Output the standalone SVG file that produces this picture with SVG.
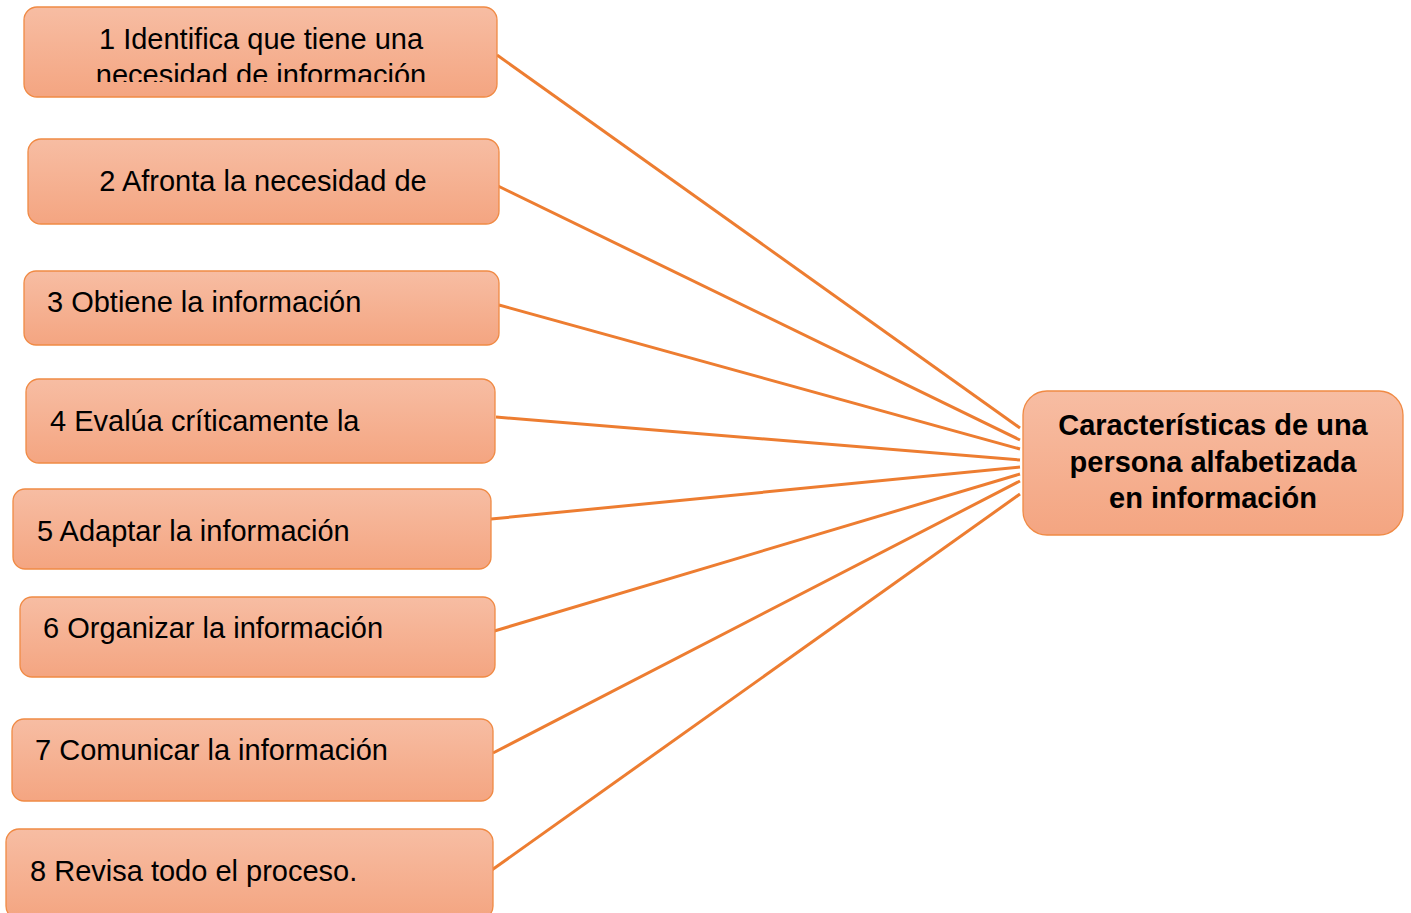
<svg xmlns="http://www.w3.org/2000/svg" width="1411" height="913" viewBox="0 0 1411 913">
<defs>
<linearGradient id="g" x1="0" y1="0" x2="0" y2="1">
<stop offset="0" stop-color="#F7BDA3"/>
<stop offset="1" stop-color="#F4A581"/>
</linearGradient>
<clipPath id="c1"><rect x="24" y="7" width="474" height="75"/></clipPath>
</defs>
<style>
.box{fill:url(#g);stroke:#F08A44;stroke-width:1.3}
.t{font-family:"Liberation Sans",Arial,sans-serif;font-size:29px;fill:#000}
.b{font-family:"Liberation Sans",Arial,sans-serif;font-size:29px;font-weight:bold;fill:#000;text-anchor:middle}
.ln{stroke:#ED7D31;stroke-width:3;fill:none}
</style>
<rect width="1411" height="913" fill="#fff"/>
<g id="connectors">
<line class="ln" x1="497" y1="55" x2="1020" y2="428"/>
<line class="ln" x1="496" y1="185" x2="1020" y2="440"/>
<line class="ln" x1="499" y1="305" x2="1020" y2="449"/>
<line class="ln" x1="496" y1="417" x2="1020" y2="460"/>
<line class="ln" x1="491" y1="519" x2="1020" y2="467"/>
<line class="ln" x1="491" y1="632" x2="1020" y2="474"/>
<line class="ln" x1="493" y1="753" x2="1020" y2="481"/>
<line class="ln" x1="489" y1="872" x2="1020" y2="494"/>
</g>
<g id="n1">
<rect class="box" x="24" y="7" width="473" height="90" rx="13"/>
<g clip-path="url(#c1)">
<text class="t" x="261" y="49" text-anchor="middle">1 Identifica que tiene una</text>
<text class="t" x="261" y="85" text-anchor="middle">necesidad de información</text>
</g>
</g>
<g id="n2">
<rect class="box" x="28" y="139" width="471" height="85" rx="13"/>
<text class="t" x="263" y="191" text-anchor="middle">2 Afronta la necesidad de</text>
</g>
<g id="n3">
<rect class="box" x="24" y="271" width="475" height="74" rx="12"/>
<text class="t" x="47" y="312">3 Obtiene la información</text>
</g>
<g id="n4">
<rect class="box" x="26" y="379" width="469" height="84" rx="13"/>
<text class="t" x="50" y="431">4 Evalúa críticamente la</text>
</g>
<g id="n5">
<rect class="box" x="13" y="489" width="478" height="80" rx="12"/>
<text class="t" x="37" y="541">5 Adaptar la información</text>
</g>
<g id="n6">
<rect class="box" x="20" y="597" width="475" height="80" rx="12"/>
<text class="t" x="43" y="638">6 Organizar la información</text>
</g>
<g id="n7">
<rect class="box" x="12" y="719" width="481" height="82" rx="12"/>
<text class="t" x="35" y="760">7 Comunicar la información</text>
</g>
<g id="n8">
<rect class="box" x="6" y="829" width="487" height="90" rx="13"/>
<text class="t" x="30" y="881">8 Revisa todo el proceso.</text>
</g>
<g id="center">
<rect class="box" x="1023" y="391" width="380" height="144" rx="24"/>
<text class="b" x="1213" y="435">Características de una</text>
<text class="b" x="1213" y="472">persona alfabetizada</text>
<text class="b" x="1213" y="508">en información</text>
</g>
</svg>
